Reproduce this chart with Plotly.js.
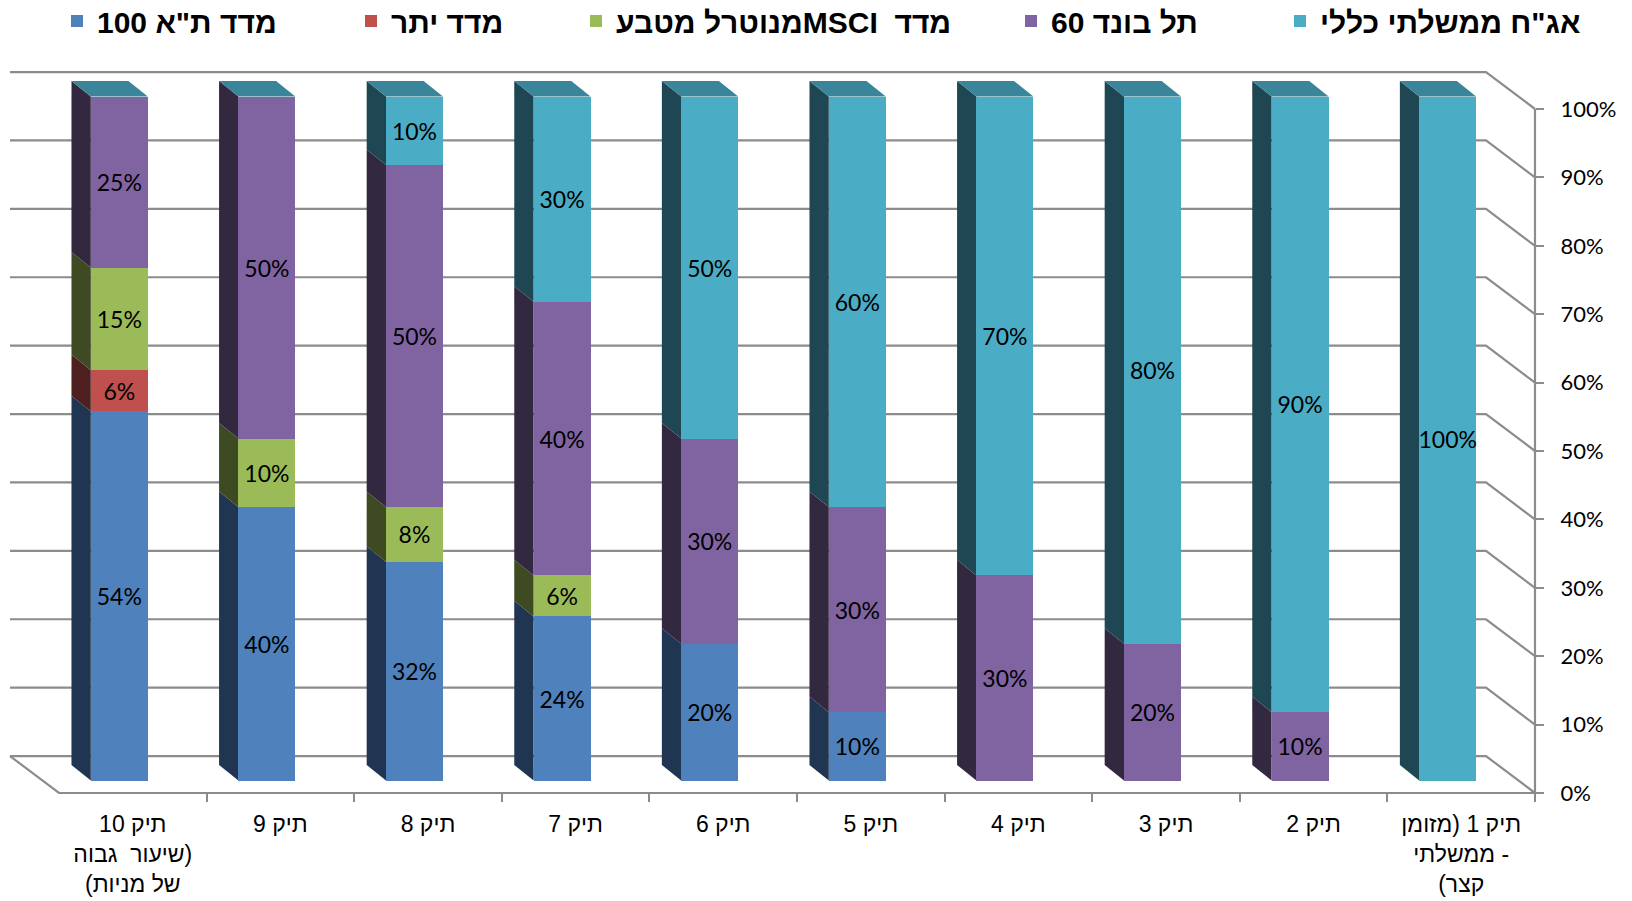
<!DOCTYPE html>
<html>
<head>
<meta charset="utf-8">
<script src="https://cdn.plot.ly/plotly-3.0.1.min.js"></script>
<style>html,body{margin:0;padding:0;background:#fff;}#chart{width:1632px;height:901px;}</style>
</head>
<body>
<div id="chart"></div>
<script>
// ---------- data ----------
const categories = [
  'תיק 1 (מזומן<br>- ממשלתי<br>קצר)',
  'תיק 2', 'תיק 3', 'תיק 4', 'תיק 5', 'תיק 6', 'תיק 7', 'תיק 8', 'תיק 9',
  'תיק 10<br>(שיעור  גבוה<br>של מניות)'
];
const seriesNames = ['מדד ת"א 100', 'מדד יתר', 'מדד  MSCIמנוטרל מטבע', 'תל בונד 60', 'אג"ח ממשלתי כללי'];
const ta100     = [0, 0, 0, 0, 10, 20, 24, 32, 40, 54];
const yeter     = [0, 0, 0, 0, 0, 0, 0, 0, 0, 6];
const msci      = [0, 0, 0, 0, 0, 0, 6, 8, 10, 15];
const telBond60 = [0, 10, 20, 30, 30, 30, 40, 50, 50, 25];
const govBonds  = [100, 90, 80, 70, 60, 50, 30, 10, 0, 0];
const yTickValues = [0, 10, 20, 30, 40, 50, 60, 70, 80, 90, 100];

// ---------- styles / geometry ----------
const seriesValues = [ta100, yeter, msci, telBond60, govBonds];
const frontColors = ['#4F81BD', '#C0504D', '#9BBB59', '#8064A2', '#4BACC6'];
const sideColors  = ['#1F3552', '#4E1F1F', '#3E4A22', '#322840', '#1F4753'];
const topColor = '#3A8599';
const gridColor = '#8C8C8C';
const W = 1632, H = 901;
const pxPerCat = 147.6, pxPerPct = 6.84;
const axisLeftPx = 59, axisRightPx = 1535, axisBottomPx = 793, axisTopPx = 109;
const nCat = categories.length;
const barWidth = 0.386, barShift = 0.0915;      // category units
const barLift = 1.81;                           // bar plane vs axis plane, % units
const sideDx = 0.131, sideDy = 2.28;            // bar depth
const backDx = 0.332, backDy = 5.4;             // back wall depth

const rtl = s => s.split('<br>').map(l => '\u202B' + l + '\u202C').join('<br>');
const xLabels = categories.map(rtl);

const xRange = [nCat - 0.5 + axisLeftPx / pxPerCat, -0.5 - (W - axisRightPx) / pxPerCat];
const yRange = [-(H - axisBottomPx) / pxPerPct, 100 + axisTopPx / pxPerPct];
const y2Range = [yRange[0] - barLift, yRange[1] - barLift];

// ---------- traces ----------
const legendX = [77, 371, 596, 1031, 1300].map(c => (c - 20) / W);
const traces = seriesValues.map((vals, k) => ({
  type: 'bar',
  name: rtl(seriesNames[k]),
  x: xLabels,
  y: vals.map(v => v === 0 ? null : v),
  xaxis: 'x', yaxis: 'y2',
  width: barWidth,
  offset: barShift - barWidth / 2,
  marker: {color: frontColors[k], line: {width: 0}},
  text: vals.map(v => v === 0 ? '' : v + '%'),
  textposition: 'inside',
  insidetextanchor: 'middle',
  textangle: 0,
  constraintext: 'none',
  textfont: {family: 'Lato, Open Sans, sans-serif', size: 23, color: '#000'},
  hoverinfo: 'skip',
  legend: k === 0 ? 'legend' : 'legend' + (k + 1)
}));

// ---------- 3D faces & walls (shapes from data) ----------
const shapes = [];
yTickValues.forEach(v => {
  shapes.push({type: 'path', xref: 'x', yref: 'y', layer: 'below',
    path: `M ${nCat - 0.5 + backDx},${v + backDy} L ${-0.5 + backDx},${v + backDy} L -0.5,${v}`,
    line: {color: gridColor, width: 2.2}});
});
shapes.push({type: 'path', xref: 'x', yref: 'y', layer: 'below',
  path: `M ${nCat - 0.5 + backDx},${backDy} L ${nCat - 0.5},0 L -0.5,0 L -0.5,100`,
  line: {color: gridColor, width: 2.2}});
const cum = new Array(nCat).fill(0);
seriesValues.forEach((vals, k) => {
  vals.forEach((v, i) => {
    if (!v) return;
    const b = cum[i], t = cum[i] + v;
    const xl = i + barShift + barWidth / 2;
    shapes.push({type: 'path', xref: 'x', yref: 'y2', layer: 'below',
      path: `M ${xl},${b} L ${xl},${t} L ${xl + sideDx},${t + sideDy} L ${xl + sideDx},${b + sideDy} Z`,
      fillcolor: sideColors[k], line: {width: 0}});
    cum[i] = t;
  });
});
cum.forEach((T, i) => {
  const xl = i + barShift + barWidth / 2, xr = i + barShift - barWidth / 2;
  shapes.push({type: 'path', xref: 'x', yref: 'y2', layer: 'below',
    path: `M ${xl},${T} L ${xr},${T} L ${xr + sideDx},${T + sideDy} L ${xl + sideDx},${T + sideDy} Z`,
    fillcolor: topColor, line: {width: 0}});
});

// ---------- layout ----------
const legendFont = {family: 'Liberation Sans Narrow, Liberation Sans, Arial, sans-serif', size: 30, weight: 'bold', color: '#000'};
const mkLegend = x => ({x: x, xanchor: 'left', y: 1 - 21 / H, yanchor: 'middle', orientation: 'h',
  font: legendFont, bgcolor: 'rgba(0,0,0,0)', borderwidth: 0});

const layout = {
  width: W, height: H,
  margin: {l: 0, r: 0, t: 0, b: 0, autoexpand: false},
  paper_bgcolor: '#fff', plot_bgcolor: '#fff',
  barmode: 'stack',
  showlegend: true,
  xaxis: {
    type: 'category', categoryorder: 'array', categoryarray: xLabels,
    range: xRange, autorange: false, fixedrange: true,
    anchor: 'free', position: 1 - axisBottomPx / H,
    tickson: 'boundaries', ticks: 'outside', ticklen: 8, tickwidth: 2, tickcolor: gridColor,
    tickangle: 0,
    showline: false, showgrid: false, zeroline: false,
    tickfont: {family: 'Liberation Sans, Arial, sans-serif', size: 23, color: '#000'},
    ticklabelstandoff: 15
  },
  yaxis: {
    range: yRange, autorange: false, fixedrange: true,
    anchor: 'free', position: axisRightPx / W, side: 'right',
    tickmode: 'array', tickvals: yTickValues, ticktext: yTickValues.map(v => v + '%'),
    ticks: 'outside', ticklen: 8, tickwidth: 2, tickcolor: gridColor,
    showline: false, showgrid: false, zeroline: false,
    tickfont: {family: 'Lato, Open Sans, sans-serif', size: 22, color: '#000'},
    ticklabelstandoff: 12
  },
  yaxis2: {
    overlaying: 'y', range: y2Range, autorange: false, visible: false, fixedrange: true
  },
  legend: mkLegend(legendX[0]),
  legend2: mkLegend(legendX[1]),
  legend3: mkLegend(legendX[2]),
  legend4: mkLegend(legendX[3]),
  legend5: mkLegend(legendX[4]),
  shapes: shapes
};

Plotly.newPlot('chart', traces, layout, {displayModeBar: false, staticPlot: true});
</script>
</body>
</html>
